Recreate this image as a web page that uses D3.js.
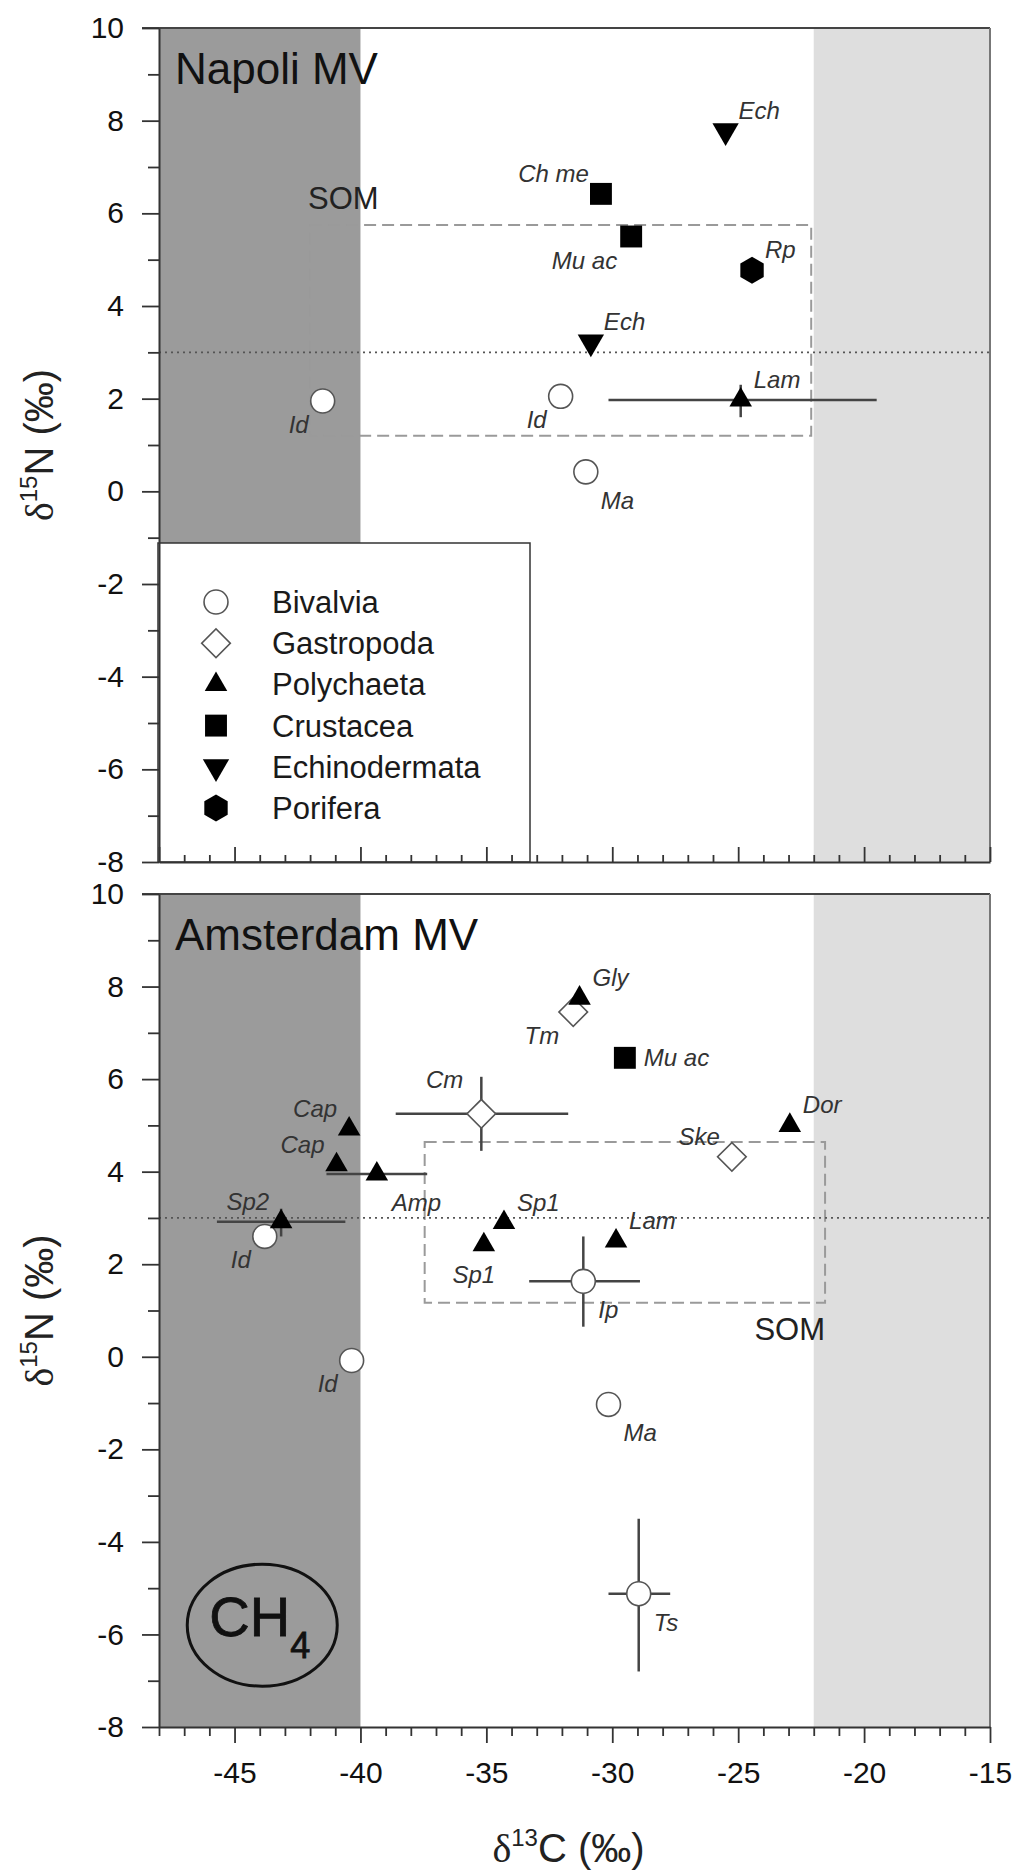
<!DOCTYPE html>
<html>
<head>
<meta charset="utf-8">
<script src="https://cdn.jsdelivr.net/npm/d3@7"></script>
<style>
body{margin:0;background:#fff}
text{font-family:"Liberation Sans",Arial,Helvetica,sans-serif}
</style>
</head>
<body>
<svg id="chart" width="1019" height="1873"></svg>
<script>
// axis ranges and tick labels
var xDomain = [-48, -15];
var yDomain = [-8, 10];
var xTicks = [-45, -40, -35, -30, -25, -20, -15];
var yTicks = [-8, -6, -4, -2, 0, 2, 4, 6, 8, 10];

var groups = ["Bivalvia", "Gastropoda", "Polychaeta", "Crustacea", "Echinodermata", "Porifera"];
var panelNames = ["Napoli MV", "Amsterdam MV"];

// shaded source ranges of d13C
var methaneBand = [-48, -40];
var marineBand = [-22, -15];
var refLineN = 3;

// Napoli MV
var napoliPoints = [
  {g: "Bivalvia", lab: "Id", x: -41.5, y: 1.95, pos: "ll"},
  {g: "Bivalvia", lab: "Id", x: -32.05, y: 2.05, pos: "ll"},
  {g: "Bivalvia", lab: "Ma", x: -31.05, y: 0.42, pos: "lr"},
  {g: "Polychaeta", lab: "Lam", x: -24.9, y: 1.97, xl: -30.15, xh: -19.5, yl: 1.6, yh: 2.3, pos: "ur"},
  {g: "Crustacea", lab: "Ch me", x: -30.45, y: 6.42, pos: "ul"},
  {g: "Crustacea", lab: "Mu ac", x: -29.25, y: 5.5, pos: "ll"},
  {g: "Echinodermata", lab: "Ech", x: -25.5, y: 7.78, pos: "ur"},
  {g: "Echinodermata", lab: "Ech", x: -30.85, y: 3.22, pos: "ur"},
  {g: "Porifera", lab: "Rp", x: -24.45, y: 4.77, pos: "ur"}
];
var napoliSOM = {x0: -42.0, x1: -22.1, y0: 1.2, y1: 5.75, pos: "above"};

// Amsterdam MV
var amsterdamPoints = [
  {g: "Bivalvia", lab: "Id", x: -43.8, y: 2.6, pos: "ll"},
  {g: "Bivalvia", lab: "Id", x: -40.35, y: -0.08, pos: "ll"},
  {g: "Bivalvia", lab: "Ip", x: -31.15, y: 1.63, xl: -33.3, xh: -28.9, yl: 0.65, yh: 2.6, pos: "lr"},
  {g: "Bivalvia", lab: "Ma", x: -30.15, y: -1.03, pos: "lr"},
  {g: "Bivalvia", lab: "Ts", x: -28.95, y: -5.12, xl: -30.15, xh: -27.7, yl: -6.8, yh: -3.5, pos: "lr"},
  {g: "Gastropoda", lab: "Tm", x: -31.55, y: 7.45, pos: "ll"},
  {g: "Gastropoda", lab: "Cm", x: -35.2, y: 5.25, xl: -38.6, xh: -31.75, yl: 4.45, yh: 6.05, pos: "ulh"},
  {g: "Gastropoda", lab: "Ske", x: -25.25, y: 4.32, pos: "ul"},
  {g: "Polychaeta", lab: "Gly", x: -31.3, y: 7.75, pos: "ur"},
  {g: "Polychaeta", lab: "Cap", x: -40.45, y: 4.92, pos: "ul"},
  {g: "Polychaeta", lab: "Cap", x: -40.95, y: 4.15, pos: "ul"},
  {g: "Polychaeta", lab: "Amp", x: -39.35, y: 3.95, xl: -41.35, xh: -37.35, pos: "lr"},
  {g: "Polychaeta", lab: "Sp2", x: -43.15, y: 2.92, xl: -45.7, xh: -40.6, yl: 2.6, yh: 3.2, pos: "ul"},
  {g: "Polychaeta", lab: "Sp1", x: -34.3, y: 2.9, pos: "ur"},
  {g: "Polychaeta", lab: "Sp1", x: -35.1, y: 2.42, pos: "b"},
  {g: "Polychaeta", lab: "Lam", x: -29.85, y: 2.5, pos: "ur"},
  {g: "Polychaeta", lab: "Dor", x: -22.95, y: 5.0, pos: "ur"},
  {g: "Crustacea", lab: "Mu ac", x: -29.5, y: 6.46, pos: "r"}
];
var amsterdamSOM = {x0: -37.45, x1: -21.55, y0: 1.17, y1: 4.64, pos: "below"};
var ch4Mark = {x: -43.9, y: -5.8};

var svg = d3.select("#chart");
var left = 159, right = 990;
var boxes = [{top: 28, bottom: 862, inward: true}, {top: 894, bottom: 1727, inward: false}];
var x = d3.scaleLinear().domain(xDomain).range([left, right]);
var fmt = function(v) { return String(v); };   // plain hyphen minus, as in the figure

var labelOffsets = {
  ur: [13, -12, "start"], ul: [-12, -12, "end"], ulh: [-18, -26, "end"], lr: [15, 37, "start"],
  ll: [-14, 32, "end"], r: [19, 8, "start"], b: [-10, 38, "middle"]
};

function hexPath(r) {
  var pts = d3.range(6).map(function(i) {
    var a = Math.PI / 3 * i;
    return [r * Math.sin(a), -r * Math.cos(a)];
  });
  return d3.line()(pts) + "Z";
}

function marker(sel, group) {
  if (group == "Bivalvia") {
    sel.append("path").attr("d", d3.symbol(d3.symbolCircle, 450)())
      .attr("fill", "#fff").attr("stroke", "#555").attr("stroke-width", 1.6);
  } else if (group == "Gastropoda") {
    sel.append("path").attr("d", d3.symbol(d3.symbolSquare, 410)())
      .attr("transform", "rotate(45)")
      .attr("fill", "#fff").attr("stroke", "#555").attr("stroke-width", 1.6);
  } else if (group == "Polychaeta") {
    sel.append("path").attr("d", d3.symbol(d3.symbolTriangle, 220)()).attr("fill", "#000");
  } else if (group == "Crustacea") {
    sel.append("path").attr("d", d3.symbol(d3.symbolSquare, 480)()).attr("fill", "#000");
  } else if (group == "Echinodermata") {
    sel.append("path").attr("d", d3.symbol(d3.symbolTriangle, 300)())
      .attr("transform", "rotate(180)").attr("fill", "#000");
  } else {
    sel.append("path").attr("d", hexPath(13.5)).attr("fill", "#000");
  }
}

function drawPanel(box, name, points, som, first) {
  var y = d3.scaleLinear().domain(yDomain).range([box.bottom, box.top]);
  var g = svg.append("g");
  var h = box.bottom - box.top;

  g.append("rect").attr("x", x(methaneBand[0])).attr("y", box.top)
    .attr("width", x(methaneBand[1]) - x(methaneBand[0])).attr("height", h)
    .attr("fill", "#9b9b9b");
  g.append("rect").attr("x", x(marineBand[0])).attr("y", box.top)
    .attr("width", x(marineBand[1]) - x(marineBand[0])).attr("height", h)
    .attr("fill", "#dedede");

  // frame on top and right
  g.append("line").attr("x1", left - 17).attr("x2", right).attr("y1", box.top).attr("y2", box.top)
    .attr("stroke", "#444").attr("stroke-width", 2);
  g.append("line").attr("x1", right).attr("x2", right).attr("y1", box.top).attr("y2", box.bottom)
    .attr("stroke", "#777").attr("stroke-width", 2);

  // SOM range
  g.append("rect").attr("x", x(som.x0)).attr("y", y(som.y1))
    .attr("width", x(som.x1) - x(som.x0)).attr("height", y(som.y0) - y(som.y1))
    .attr("fill", "none").attr("stroke", "#9a9a9a").attr("stroke-width", 2)
    .attr("stroke-dasharray", "12,6");
  var somText = g.append("text").text("SOM").attr("font-size", 31).attr("fill", "#222");
  if (som.pos == "above") {
    somText.attr("x", x(som.x0) - 2).attr("y", y(som.y1) - 16);
  } else {
    somText.attr("x", x(som.x1)).attr("y", y(som.y0) + 37).attr("text-anchor", "end");
  }

  g.append("line").attr("x1", left).attr("x2", right).attr("y1", y(refLineN)).attr("y2", y(refLineN))
    .attr("stroke", "#555").attr("stroke-width", 1.8).attr("stroke-dasharray", "2,4");

  if (first) {
    var lg = g.append("g");
    lg.append("rect").attr("x", left - 1).attr("y", 543).attr("width", 372).attr("height", box.bottom - 543)
      .attr("fill", "#fff").attr("stroke", "#333").attr("stroke-width", 1.5);
    groups.forEach(function(grp, i) {
      var row = lg.append("g").attr("transform", "translate(216," + (602 + i * 41.2) + ")");
      marker(row, grp);
      row.append("text").attr("x", 56).attr("y", 11).text(grp)
        .attr("font-size", 31).attr("fill", "#1a1a1a");
    });
  } else {
    g.append("ellipse").attr("cx", x(ch4Mark.x)).attr("cy", y(ch4Mark.y))
      .attr("rx", 75).attr("ry", 61).attr("fill", "none").attr("stroke", "#111").attr("stroke-width", 3);
    var ct = g.append("text").attr("x", x(ch4Mark.x) - 53).attr("y", y(ch4Mark.y) + 11)
      .attr("font-size", 56).attr("fill", "#111").attr("stroke", "#111").attr("stroke-width", 0.8);
    ct.append("tspan").text("CH");
    ct.append("tspan").attr("dy", 22).attr("font-size", 36).text("4");
  }

  // axes
  var yAxis = g.append("g").attr("transform", "translate(" + left + ",0)")
    .call(d3.axisLeft(y).tickValues(yTicks).tickFormat(fmt).tickSize(17).tickPadding(18).tickSizeOuter(0));
  g.append("g").attr("transform", "translate(" + left + ",0)")
    .call(d3.axisLeft(y).tickValues(d3.range(-7, 10, 2)).tickSize(11).tickFormat("").tickSizeOuter(0))
    .select(".domain").remove();
  yAxis.selectAll("text").attr("font-size", 30).attr("fill", "#111").attr("font-family", null);

  var minorX = d3.range(-47, -15).filter(function(v) { return v % 5 != 0; });
  var xAxis = g.append("g").attr("transform", "translate(0," + box.bottom + ")");
  if (box.inward) {
    xAxis.call(d3.axisBottom(x).tickValues(xTicks.concat([-48])).tickSize(-15).tickFormat("").tickSizeOuter(0));
    g.append("g").attr("transform", "translate(0," + box.bottom + ")")
      .call(d3.axisBottom(x).tickValues(minorX).tickSize(-7).tickFormat("").tickSizeOuter(0))
      .select(".domain").remove();
  } else {
    xAxis.call(d3.axisBottom(x).tickValues(xTicks).tickFormat(fmt).tickSize(16).tickPadding(19).tickSizeOuter(0));
    g.append("g").attr("transform", "translate(0," + box.bottom + ")")
      .call(d3.axisBottom(x).tickValues(minorX.concat([-48])).tickSize(9).tickFormat("").tickSizeOuter(0))
      .select(".domain").remove();
    xAxis.selectAll("text").attr("font-size", 30).attr("fill", "#111").attr("font-family", null);
  }
  g.selectAll(".domain").attr("stroke", "#333").attr("stroke-width", 2);
  g.selectAll(".tick line").attr("stroke", "#333").attr("stroke-width", 1.8);

  g.append("text").attr("x", 175).attr("y", box.top + 56).text(name)
    .attr("font-size", 44).attr("fill", "#111");

  var yl = g.append("text").attr("transform", "translate(53," + ((box.top + box.bottom) / 2) + ") rotate(-90)")
    .attr("text-anchor", "middle").attr("font-size", 40).attr("fill", "#222");
  yl.append("tspan").attr("font-family", "Liberation Serif, serif").text("δ");
  yl.append("tspan").attr("font-size", 24).attr("dy", -16).text("15");
  yl.append("tspan").attr("dy", 16).text("N (‰)");

  // error bars
  var eb = g.append("g").attr("stroke", "#444").attr("stroke-width", 2.5);
  points.forEach(function(d) {
    if (d.xl != null) {
      eb.append("line").attr("x1", x(d.xl)).attr("x2", x(d.xh)).attr("y1", y(d.y)).attr("y2", y(d.y));
    }
    if (d.yl != null) {
      eb.append("line").attr("x1", x(d.x)).attr("x2", x(d.x)).attr("y1", y(d.yl)).attr("y2", y(d.yh));
    }
  });

  points.forEach(function(d) {
    var m = g.append("g").attr("transform", "translate(" + x(d.x) + "," + y(d.y) + ")");
    marker(m, d.g);
    var o = labelOffsets[d.pos];
    m.append("text").attr("x", o[0]).attr("y", o[1]).attr("text-anchor", o[2])
      .attr("font-size", 24).attr("font-style", "italic").attr("fill", "#333").text(d.lab);
  });
}

drawPanel(boxes[0], panelNames[0], napoliPoints, napoliSOM, true);
drawPanel(boxes[1], panelNames[1], amsterdamPoints, amsterdamSOM, false);

var xl = svg.append("text").attr("x", (left + right) / 2 - 6).attr("y", 1862)
  .attr("text-anchor", "middle").attr("font-size", 40).attr("fill", "#222");
xl.append("tspan").attr("font-family", "Liberation Serif, serif").text("δ");
xl.append("tspan").attr("font-size", 24).attr("dy", -16).text("13");
xl.append("tspan").attr("dy", 16).text("C (‰)");
</script>
</body>
</html>
